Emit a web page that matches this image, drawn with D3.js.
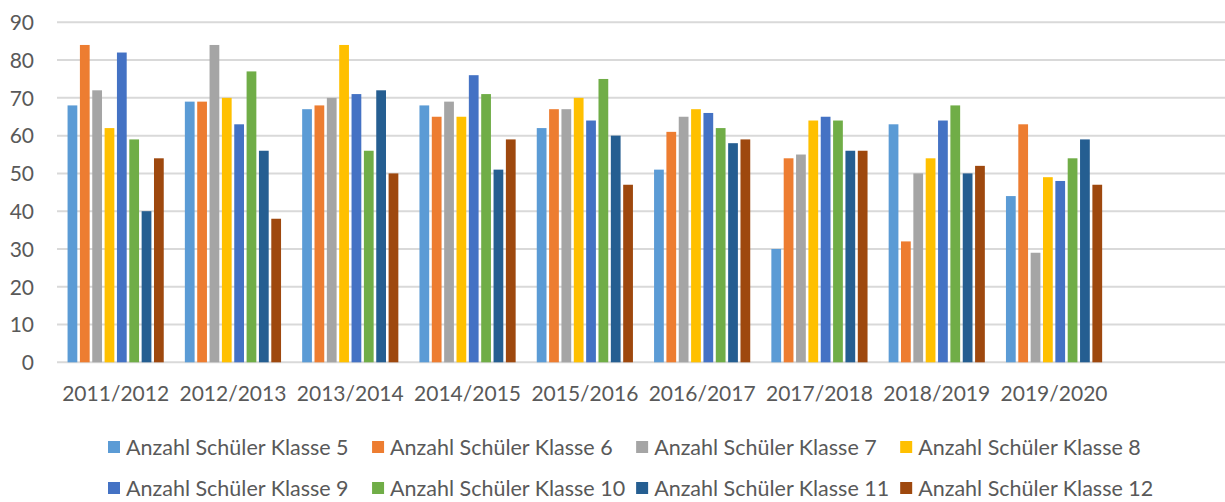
<!DOCTYPE html>
<html>
<head>
<meta charset="utf-8">
<script src="https://cdn.jsdelivr.net/npm/d3@7/dist/d3.min.js"></script>
<style>
  body { margin: 0; background: #ffffff; }
  svg text { font-family: Lato, "Open Sans", sans-serif; fill: #595959; }
</style>
</head>
<body>
<svg id="chart" width="1225" height="502"></svg>
<script>
// School years on the category axis
const categories = ["2011/2012", "2012/2013", "2013/2014", "2014/2015", "2015/2016",
                    "2016/2017", "2017/2018", "2018/2019", "2019/2020"];

// Pupils per grade and school year
const klasse5  = [68, 69, 67, 68, 62, 51, 30, 63, 44];
const klasse6  = [84, 69, 68, 65, 67, 61, 54, 32, 63];
const klasse7  = [72, 84, 70, 69, 67, 65, 55, 50, 29];
const klasse8  = [62, 70, 84, 65, 70, 67, 64, 54, 49];
const klasse9  = [82, 63, 71, 76, 64, 66, 65, 64, 48];
const klasse10 = [59, 77, 56, 71, 75, 62, 64, 68, 54];
const klasse11 = [40, 56, 72, 51, 60, 58, 56, 50, 59];
const klasse12 = [54, 38, 50, 59, 47, 59, 56, 52, 47];

const seriesNames = ["Anzahl Schüler Klasse 5", "Anzahl Schüler Klasse 6",
                     "Anzahl Schüler Klasse 7", "Anzahl Schüler Klasse 8",
                     "Anzahl Schüler Klasse 9", "Anzahl Schüler Klasse 10",
                     "Anzahl Schüler Klasse 11", "Anzahl Schüler Klasse 12"];
const seriesColors = ["#5B9BD5", "#ED7D31", "#A5A5A5", "#FFC000",
                      "#4472C4", "#70AD47", "#255E91", "#9E480E"];

const yTicks = [0, 10, 20, 30, 40, 50, 60, 70, 80, 90];

const seriesValues = [klasse5, klasse6, klasse7, klasse8, klasse9, klasse10, klasse11, klasse12];
const series = seriesNames.map((name, i) => ({ name, color: seriesColors[i], values: seriesValues[i] }));

const svg = d3.select("#chart");

// Plot area; the category axis keeps one empty slot after the last year
const plotLeft = 57, plotRight = 1230, plotTop = 22.3, plotBottom = 362.3;
const slots = categories.length + 1;
const step = (plotRight - plotLeft) / slots;

const x = d3.scaleBand()
  .domain(categories)
  .range([plotLeft, plotLeft + step * categories.length])
  .paddingInner(0.18)
  .paddingOuter(0.09);

const xInner = d3.scaleBand()
  .domain(seriesNames)
  .range([0, x.bandwidth()])
  .paddingInner(0.21)
  .paddingOuter(0);

const y = d3.scaleLinear().domain([0, 90]).range([plotBottom, plotTop]);

// Horizontal gridlines
svg.append("g")
  .selectAll("line")
  .data(yTicks)
  .join("line")
  .attr("x1", plotLeft)
  .attr("x2", 1225)
  .attr("y1", d => y(d))
  .attr("y2", d => y(d))
  .attr("stroke", "#D9D9D9")
  .attr("stroke-width", 2);

// Y axis labels
const yAxis = d3.axisLeft(y).tickValues(yTicks).tickSize(0).tickPadding(0);
svg.append("g")
  .attr("transform", `translate(34,0)`)
  .call(yAxis)
  .call(g => g.select(".domain").remove())
  .call(g => g.selectAll("text")
    .attr("font-size", 21)
    .attr("dy", "0.35em")
    .style("font-family", "Lato, 'Open Sans', sans-serif")
    .attr("fill", "#595959"));

// X axis labels
const xAxis = d3.axisBottom(x).tickSize(0).tickPadding(0);
svg.append("g")
  .attr("transform", `translate(0,${plotBottom + 31})`)
  .call(xAxis)
  .call(g => g.select(".domain").remove())
  .call(g => g.selectAll("text")
    .attr("font-size", 21)
    .attr("dy", "0.35em")
    .style("font-family", "Lato, 'Open Sans', sans-serif")
    .attr("fill", "#595959"));

// Bars
const groups = svg.append("g")
  .selectAll("g")
  .data(categories)
  .join("g")
  .attr("transform", d => `translate(${x(d)},0)`);

groups.selectAll("rect")
  .data((d, i) => series.map(s => ({ name: s.name, color: s.color, value: s.values[i] })))
  .join("rect")
  .attr("x", d => xInner(d.name))
  .attr("width", xInner.bandwidth())
  .attr("y", d => y(d.value))
  .attr("height", d => y(0) - y(d.value))
  .attr("fill", d => d.color);

// Legend: two rows of four, equal-width columns sized to the widest entry
const legendRows = [series.slice(0, 4), series.slice(4, 8)];
const legendRowY = [447, 488];
const legendFont = 21.5;
const swatch = 12;

const legend = svg.append("g");
const measure = legend.append("text").attr("font-size", legendFont);
const textWidth = s => { measure.text(s); return measure.node().getComputedTextLength(); };
const maxText = d3.max(series, s => textWidth(s.name));
measure.remove();
const colWidth = swatch + 6 + maxText + 11;
const legendLeft = 108;

legendRows.forEach((row, r) => {
  row.forEach((s, c) => {
    const item = legend.append("g")
      .attr("transform", `translate(${legendLeft + c * colWidth},${legendRowY[r]})`);
    item.append("rect")
      .attr("x", 0).attr("y", -swatch / 2)
      .attr("width", swatch).attr("height", swatch)
      .attr("fill", s.color);
    item.append("text")
      .attr("x", swatch + 6)
      .attr("dy", "0.35em")
      .attr("font-size", legendFont)
      .text(s.name);
  });
});
</script>
</body>
</html>
